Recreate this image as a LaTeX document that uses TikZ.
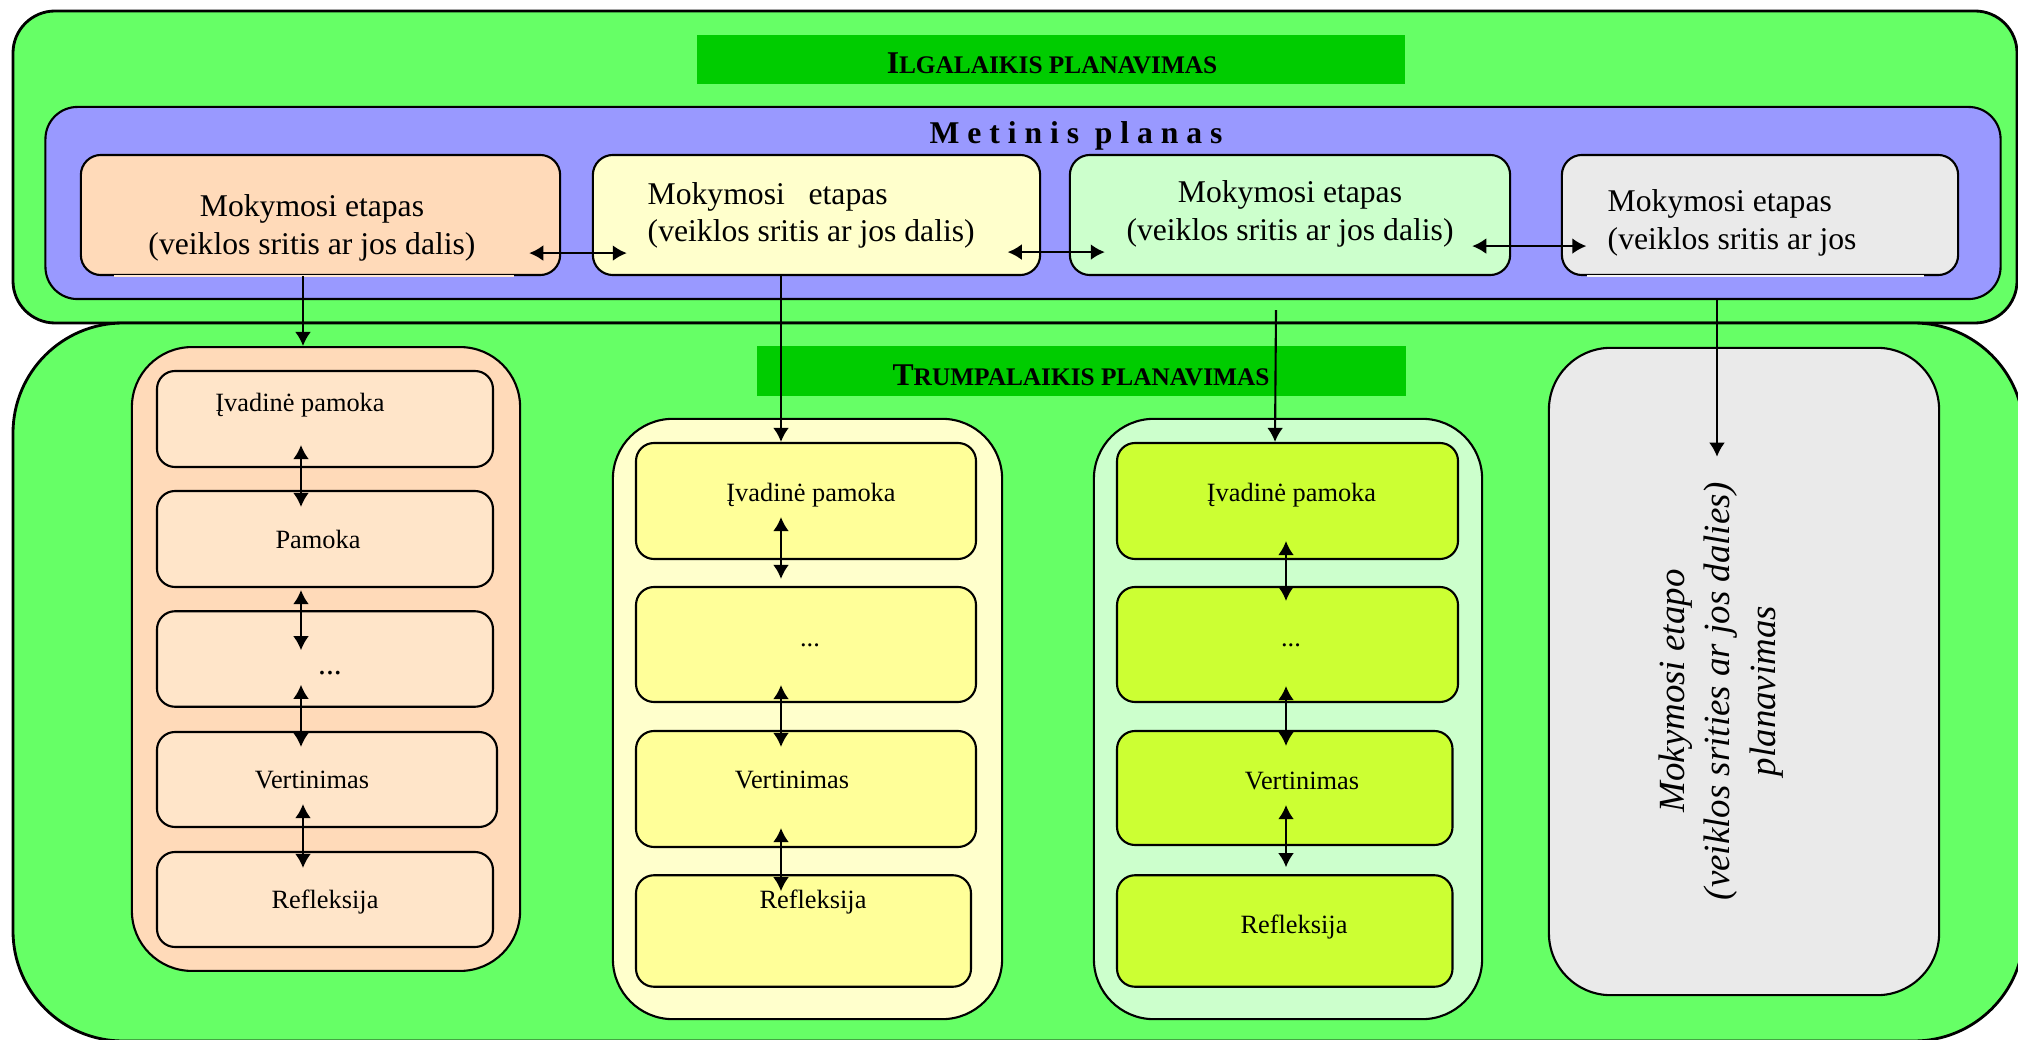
\documentclass[tikz,border=0pt]{standalone}
\usepackage{fontspec}
\setmainfont{Liberation Serif}
\usetikzlibrary{arrows.meta,calc}
\definecolor{planGreen}{HTML}{66FF66}
\definecolor{barGreen}{HTML}{00CC00}
\definecolor{planBlue}{HTML}{9999FF}
\definecolor{stagePeach}{HTML}{FFDAB9}
\definecolor{lessonPeach}{HTML}{FFE5C9}
\definecolor{stageCream}{HTML}{FFFFCC}
\definecolor{lessonYellow}{HTML}{FFFF99}
\definecolor{stageMint}{HTML}{CCFFCC}
\definecolor{lessonLime}{HTML}{CCFF33}
\definecolor{stageGrey}{HTML}{EAEAEA}
\newcommand\stagefont{\fontsize{9}{10.6}\selectfont}
\newcommand\lessonfont{\fontsize{7.5}{9}\selectfont}
\newcommand\sidefont{\fontsize{10.5}{13}\selectfont}
\newcommand\barcaps[2]{\textbf{\fontsize{9}{10}\selectfont #1\fontsize{7.2}{10}\selectfont #2}}
\newcommand\moredots{...}

\begin{document}
\begin{tikzpicture}[x=0.01cm, y=-0.01cm, line join=round,
  shell/.style={draw, line width=0.8pt},
  stage/.style={draw, line width=0.6pt, rounded corners=0.2cm, inner sep=0pt, minimum height=1.2cm},
  holder/.style={draw, line width=0.6pt, rounded corners=0.6cm, inner sep=0pt},
  lesson/.style={draw, line width=0.6pt, rounded corners=0.18cm, inner sep=0pt},
  bar/.style={fill=barGreen, inner sep=0pt, minimum height=0.49cm},
  txt/.style={inner sep=0pt, font=\stagefont},
  tag/.style={inner sep=0pt, anchor=base, font=\lessonfont},
  dbl/.style={{Latex[length=4pt,width=4.5pt]}-{Latex[length=4pt,width=4.5pt]}, line width=0.6pt},
  down/.style={-{Latex[length=4pt,width=4.5pt]}, line width=0.6pt}]
\clip (0,0) rectangle (2018,1040);
% long-term and short-term planning areas
\draw[shell, fill=planGreen, rounded corners=0.42cm] (13,11) rectangle (2017,323);
\draw[shell, fill=planGreen, rounded corners=1.1cm] (13,323) rectangle (2024,1041);
\node[bar, minimum width=7.08cm] (ilg) at (1051,59.5) {};
\node[inner sep=0pt, anchor=base] (ilgt) at (1052,74) {\barcaps{I}{LGALAIKIS PLANAVIMAS}};
\node[holder, fill=planBlue, rounded corners=0.32cm, minimum width=19.54cm, minimum height=1.92cm] (plan) at (1023,203) {};
\node[inner sep=0pt, anchor=base, font=\stagefont\bfseries] (plant) at (1076,144) {M e t i n i s~~p l a n a s};
% stages of the year plan
\node[stage, fill=stagePeach, minimum width=4.79cm] (s1) at (320.5,215) {};
\node[stage, fill=stageCream, minimum width=4.47cm] (s2) at (816.5,215) {};
\node[stage, fill=stageMint, minimum width=4.40cm] (s3) at (1290,215) {};
\node[stage, fill=stageGrey, minimum width=3.96cm] (s4) at (1760,215) {};
\draw[stagePeach!60!white, line width=0.8pt] ($(s1.south west)+(34,0)$) -- ($(s1.south east)+(-47,0)$);
\draw[stageGrey!50!white, line width=0.8pt] ($(s4.south west)+(26,0)$) -- ($(s4.south east)+(-35,0)$);
\node[txt, align=center] (s1t) at (312,228) {Mokymosi etapas\\(veiklos sritis ar jos dalis)};
\node[txt, align=left, anchor=west] (s2t) at (647,215.5) {Mokymosi\ \ \ etapas\\(veiklos sritis ar jos dalis)};
\node[txt, align=center] (s3t) at (1290,214) {Mokymosi etapas\\(veiklos sritis ar jos dalis)};
\node[txt, align=left, anchor=west] (s4t) at (1607,223) {Mokymosi etapas\\(veiklos sritis ar jos};
\node[bar, minimum width=6.49cm] (trm) at (1081.5,371) {};
\node[inner sep=0pt, anchor=base] (trmt) at (1081,386) {\barcaps{T}{RUMPALAIKIS PLANAVIMAS}};
% columns of lessons
\node[holder, fill=stagePeach, minimum width=3.88cm, minimum height=6.235cm] (c1) at (326,659) {};
\node[holder, fill=stageCream, minimum width=3.89cm, minimum height=6cm] (c2) at (807.5,719) {};
\node[holder, fill=stageMint, minimum width=3.88cm, minimum height=6cm] (c3) at (1288,719) {};
\node[holder, fill=stageGrey, rounded corners=0.62cm, minimum width=3.90cm, minimum height=6.47cm] (gr) at (1744,671.5) {};
\foreach \n/\x/\y/\w/\h in {p1/325/419/336/96, p2/325/539/336/96, p3/325/659/336/95.5, p4/327/779.5/340/95, p5/325/899.5/336/95}
  \node[lesson, fill=lessonPeach, minimum width=\w*0.01cm, minimum height=\h*0.01cm] (\n) at (\x,\y) {};
\foreach \n/\x/\y/\w/\h in {y1/806/501/340/116, y2/806/644.5/340/115, y3/806/789/340/116, y4/803.5/931/335/111.5}
  \node[lesson, fill=lessonYellow, minimum width=\w*0.01cm, minimum height=\h*0.01cm] (\n) at (\x,\y) {};
\foreach \n/\x/\y/\w/\h in {g1/1287.5/501/341/116, g2/1287.5/644.5/341/115, g3/1284.75/788/335.5/114, g4/1284.75/931/335.5/111.5}
  \node[lesson, fill=lessonLime, minimum width=\w*0.01cm, minimum height=\h*0.01cm] (\n) at (\x,\y) {};
\foreach \n/\x/\y/\t in {p1t/300/412/{Įvadinė pamoka}, p2t/318/548.6/Pamoka, p4t/312/788.3/Vertinimas, p5t/325/908.6/Refleksija,
    y1t/811/501.8/{Įvadinė pamoka}, y2t/810/646/\moredots, y3t/792/788.3/Vertinimas, y4t/813/908.6/Refleksija,
    g1t/1291.5/501.8/{Įvadinė pamoka}, g2t/1291/646/\moredots, g3t/1302/789/Vertinimas, g4t/1294/933/Refleksija}
  \node[tag] (\n) at (\x,\y) {\t};
\node[tag, font=\stagefont] (p3t) at (330,674.4) {\moredots};
\node[inner sep=0pt, rotate=90, align=center, font=\sidefont\itshape] (grt) at (1721,691) {Mokymosi etapo\\(veiklos srities ar jos dalies)\\planavimas};
% connectors
\draw[dbl] ($(s1.south east)+(-32,-23)$) -- ($(s2.south west)+(35,-23)$);
\draw[dbl] ($(s2.south east)+(-33.5,-24)$) -- ($(s3.south west)+(36,-24)$);
\draw[dbl] ($(s3.south east)+(-39,-30)$) -- ($(s4.south west)+(25.5,-30)$);
\draw[down] ($(s1.south)+(-17.5,0)$) -- ($(c1.north)+(-23,0)$);
\draw[down] ($(s2.south)+(-35.5,0)$) -- ($(y1.north)+(-25,0)$);
\draw[down] ($(s3.south)+(-14,34)$) -- ($(g1.north)+(-12.5,0)$);
\draw[down] ($(s4.south)+(-43,24)$) -- ($(gr.north)+(-27,110)$);
\foreach \hi/\lo/\dx/\ta/\tb in {p1/p2/-24/-23/17, p2/p3/-24/2/40, p3/p4/-24/-23/16, p4/p5/-24/-24/17,
    y1/y2/-25/-43/-7, y2/y3/-25/-18/17, y3/y4/-25/-20/17,
    g1/g2/-1.5/-19/15, g2/g3/-1.5/-17/16, g3/g4/1.25/-41/-7}
  \draw[dbl] let \p1=($(\hi.south)+(\dx,\ta)$), \p2=($(\lo.north)+(0,\tb)$) in (\p1) -- (\x1,\y2);
\end{tikzpicture}
\end{document}
